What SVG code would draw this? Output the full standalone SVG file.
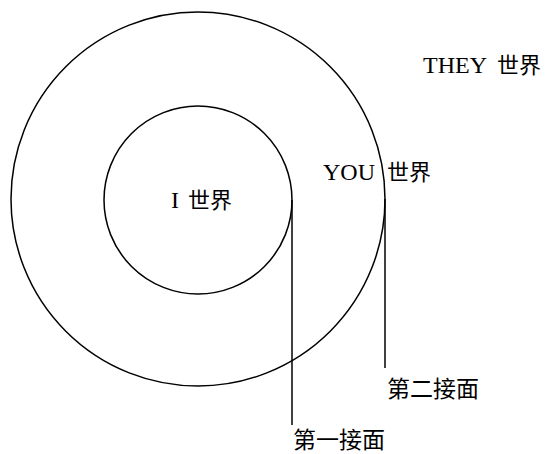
<svg xmlns="http://www.w3.org/2000/svg" width="549" height="454" viewBox="0 0 549 454">
  <style>
    .ring { fill: none; stroke: #000; stroke-width: 1.5; }
    .conn { fill: none; stroke: #000; stroke-width: 1.5; }
    .lat { font-family: "Liberation Serif", serif; font-size: 24px; fill: #000; }
    .cjk { font-family: "Noto Sans CJK SC", "Noto Sans CJK JP", sans-serif; font-size: 22px; fill: #000; }
    .lbl { font-family: "Noto Sans CJK SC", "Noto Sans CJK JP", sans-serif; font-size: 23px; fill: #000; }
  </style>
  <rect width="549" height="454" fill="#fff"/>
  <g id="they-world">
    <circle class="ring" cx="198" cy="199" r="187"/>
    <text x="423" y="73"><tspan class="lat">THEY</tspan><tspan class="cjk" x="497" font-size="24px">世界</tspan></text>
  </g>
  <g id="i-world">
    <circle class="ring" cx="198" cy="200" r="94"/>
    <text x="171" y="208"><tspan class="lat">I</tspan><tspan class="cjk" x="188">世界</tspan></text>
  </g>
  <g id="you-world">
    <text x="323" y="180"><tspan class="lat">YOU</tspan><tspan class="cjk" x="387">世界</tspan></text>
  </g>
  <g id="connectors">
    <line class="conn" x1="292" y1="200" x2="292" y2="425"/>
    <line class="conn" x1="385" y1="199" x2="385" y2="368"/>
  </g>
  <g id="first-interface">
    <text class="lbl" x="293" y="448">第一接面</text>
  </g>
  <g id="second-interface">
    <text class="lbl" x="387" y="397">第二接面</text>
  </g>
</svg>
